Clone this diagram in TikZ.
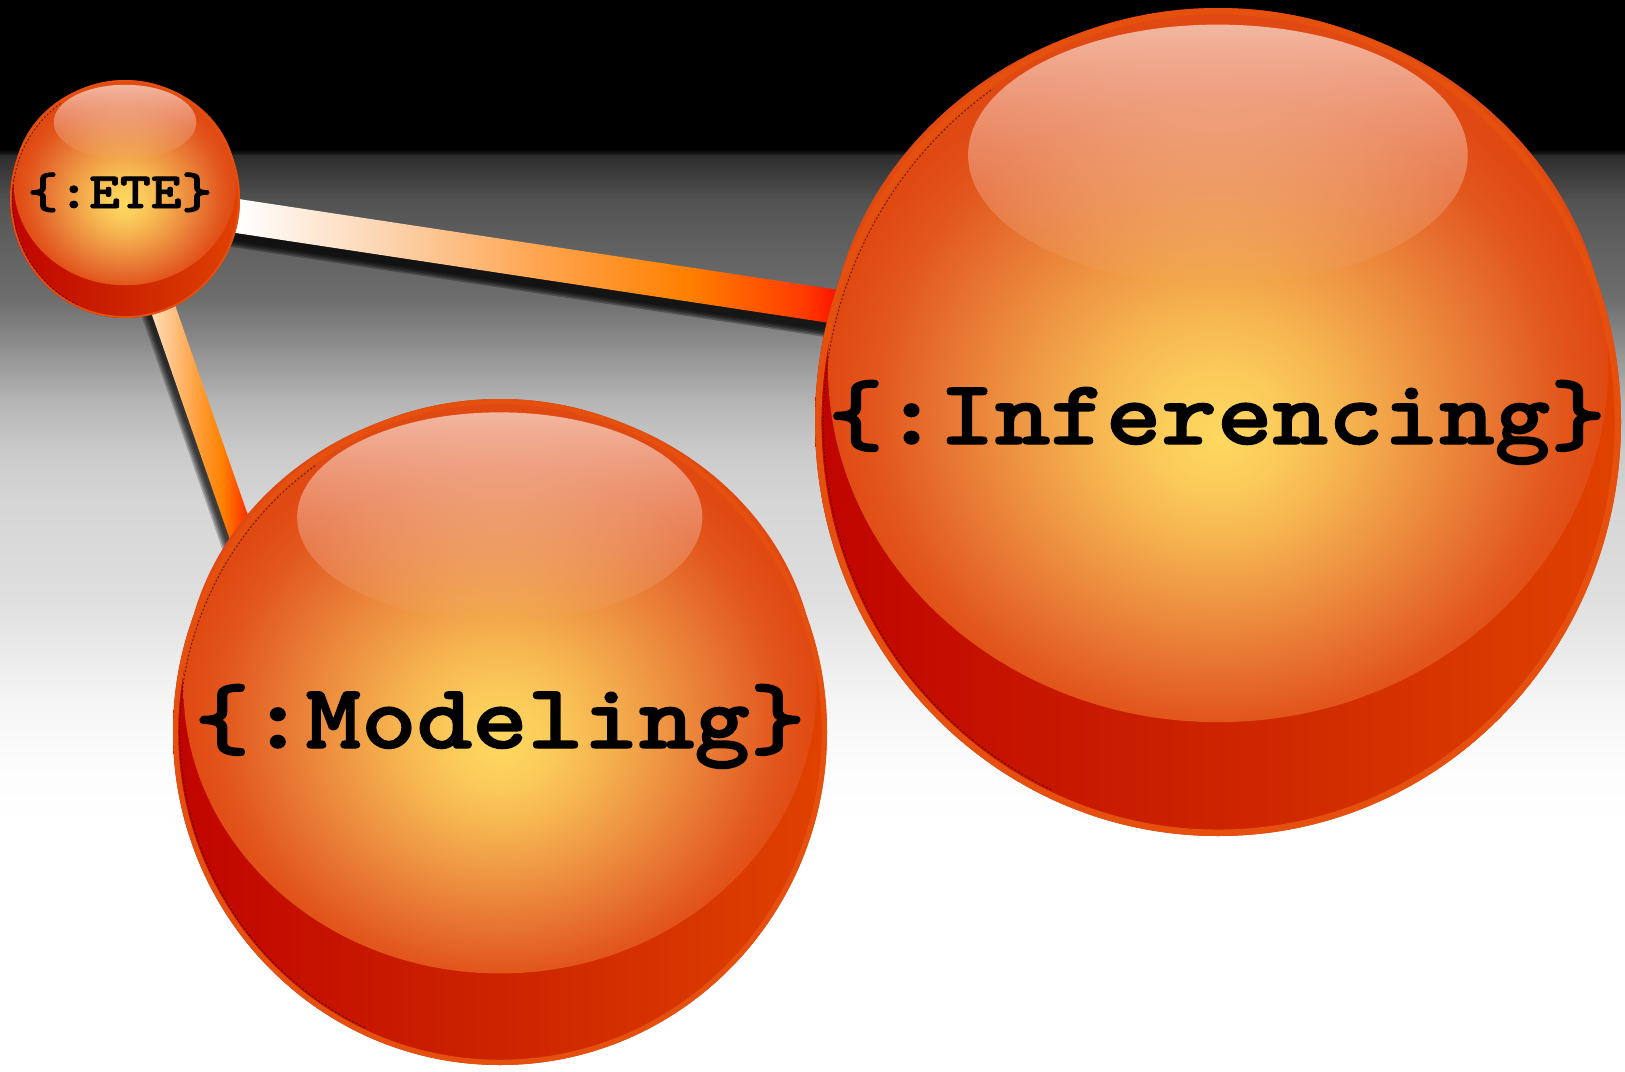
\documentclass[tikz,border=0pt]{standalone}
\usepackage{fontspec}
\newfontfamily\labelfont{lmmonolt10-bold.otf}[FakeStretch=1.15, FakeBold=1.6]
\usetikzlibrary{calc,fadings}

% sphere colours
\definecolor{baseL}{HTML}{C00400}
\definecolor{baseM}{HTML}{CC2400}
\definecolor{baseR}{HTML}{E04200}
\definecolor{rimorange}{HTML}{E5500F}
\definecolor{rimdark}{HTML}{2A0A00}
\definecolor{litA}{HTML}{FED860}
\definecolor{litB}{HTML}{FBCB5A}
\definecolor{litC}{HTML}{F6B550}
\definecolor{litD}{HTML}{EE9442}
\definecolor{litE}{HTML}{E77230}
\definecolor{litF}{HTML}{E2561C}
\definecolor{litG}{HTML}{E04A12}
% rod colours
\definecolor{rodA}{HTML}{FFFFFF}
\definecolor{rodB}{HTML}{FCD3AE}
\definecolor{rodC}{HTML}{FFA550}
\definecolor{rodD}{HTML}{FF8000}
\definecolor{rodE}{HTML}{FF3C00}
\definecolor{rodF}{HTML}{FF0000}
\definecolor{rodP}{HTML}{FFE2C0}
\definecolor{rodQ}{HTML}{FFC080}
\definecolor{rodR}{HTML}{FF9A30}

\pgfdeclarehorizontalshading{ballbase}{100bp}{color(0bp)=(baseL); color(25bp)=(baseL); color(50bp)=(baseM); color(75bp)=(baseR); color(100bp)=(baseR)}
\pgfdeclareradialshading{balllit}{\pgfpoint{0bp}{-5bp}}{color(0bp)=(litA); color(4bp)=(litB); color(8bp)=(litC); color(13bp)=(litD); color(18bp)=(litE); color(22bp)=(litF); color(25bp)=(litG); color(50bp)=(litG)}
\pgfdeclarehorizontalshading{longrod}{100bp}{color(0bp)=(rodA); color(32bp)=(rodA); color(41bp)=(rodB); color(50bp)=(rodC); color(59bp)=(rodD); color(66bp)=(rodE); color(69bp)=(rodF); color(100bp)=(rodF)}
\pgfdeclarehorizontalshading{shortrod}{100bp}{color(0bp)=(rodP); color(35bp)=(rodP); color(42bp)=(rodQ); color(50bp)=(rodR); color(56bp)=(rodD); color(62bp)=(rodE); color(65bp)=(rodF); color(100bp)=(rodF)}
\tikzfading[name=glossfade, top color=transparent!0, middle color=transparent!35, bottom color=transparent!100]

% one horizontal band of the backdrop: top y, bottom y, top grey, bottom grey
\newcommand\bgband[4]{%
  \shade[top color={rgb,255:red,#3;green,#3;blue,#3},
         bottom color={rgb,255:red,#4;green,#4;blue,#4}]
    (0,#1-0.6) rectangle (1625,#2+0.6);}

% glossy sphere: centre x, centre y, x radius, y radius
\newcommand\glossball[4]{%
  \pgfmathsetmacro\gbInY{#2-0.135*#4}%
  \pgfmathsetmacro\gbInRx{0.968*#3}%
  \pgfmathsetmacro\gbInRy{0.86*#4}%
  \pgfmathsetmacro\gbHiY{#2-0.645*#4}%
  \pgfmathsetmacro\gbHiRx{0.62*#3}%
  \pgfmathsetmacro\gbHiRy{0.315*#4}%
  \pgfmathsetmacro\gbRim{0.016*#3}%
  \pgfmathsetmacro\gbRx{#3-\gbRim/2}%
  \pgfmathsetmacro\gbRy{#4-\gbRim/2}%
  \pgfmathsetmacro\gbDx{#3-1.3*\gbRim}%
  \pgfmathsetmacro\gbDy{#4-1.3*\gbRim}%
  \pgfmathsetmacro\gbSx{#1+\gbDx*cos(115)}%
  \pgfmathsetmacro\gbSy{#2+\gbDy*sin(115)}%
  \shade[shading=ballbase] (#1,#2) ellipse[x radius=#3, y radius=#4];
  \shade[shading=balllit] (#1,\gbInY) ellipse[x radius=\gbInRx, y radius=\gbInRy];
  \fill[white, fill opacity=0.6, path fading=glossfade]
    (#1,\gbHiY) ellipse[x radius=\gbHiRx, y radius=\gbHiRy];
  \draw[rimorange, line width=\gbRim pt] (#1,#2) ellipse[x radius=\gbRx, y radius=\gbRy];
  \draw[rimdark, opacity=0.7, line width=0.9pt, dash pattern=on 2pt off 2pt]
    (\gbSx,\gbSy) arc[start angle=115, end angle=235, x radius=\gbDx, y radius=\gbDy];
}

\begin{document}
\begin{tikzpicture}[x=1pt, y=-1pt,
  smalllabel/.style={font=\labelfont\fontsize{51}{51}\selectfont, inner sep=0pt, anchor=base, text=black},
  biglabel/.style={font=\labelfont\fontsize{92}{92}\selectfont, inner sep=0pt, anchor=base, text=black}]
\useasboundingbox (0,0) rectangle (1625,1071);

% backdrop: black band on top, grey fading to white below
\fill[white] (0,0) rectangle (1625,1071);
\fill[black] (0,0) rectangle (1625,150.5);
\bgband{150}{156}{0}{45}
\bgband{156}{200}{45}{82}
\bgband{200}{240}{82}{95}
\bgband{240}{300}{95}{110}
\bgband{300}{350}{110}{145}
\bgband{350}{400}{145}{180}
\bgband{400}{450}{180}{202}
\bgband{450}{500}{202}{213}
\bgband{500}{600}{213}{223}
\bgband{600}{650}{223}{234}
\bgband{650}{700}{234}{245}
\bgband{700}{760}{245}{252}
\bgband{760}{830}{252}{255}

% sphere centres and rod ends
\coordinate (ete) at (125,199);
\coordinate (mod) at (500,732);
\coordinate (inf) at (1218,422);
\coordinate (inf-port) at (950,324);
\coordinate (mod-port) at (278,640);

% soft shadows of the rods
\foreach \w in {0,3,6,9,12}{
  \draw[black, opacity=0.28, line width={(32+\w)*1pt}]
    ([shift={(-4,9)}]ete) -- ([shift={(-4,9)}]inf-port);
  \draw[black, opacity=0.22, line width={(21+\w)*1pt}]
    ([shift={(-5,5)}]ete) -- ([shift={(-5,5)}]mod-port);
}

% rods
\shade[shading=longrod]
  ($(ete)!17pt!90:(inf-port)$) -- ($(inf-port)!17pt!-90:(ete)$) --
  ($(inf-port)!17pt!90:(ete)$) -- ($(ete)!17pt!-90:(inf-port)$) -- cycle;
\shade[shading=shortrod]
  ($(ete)!12.5pt!90:(mod-port)$) -- ($(mod-port)!12.5pt!-90:(ete)$) --
  ($(mod-port)!12.5pt!90:(ete)$) -- ($(ete)!12.5pt!-90:(mod-port)$) -- cycle;

% spheres
\glossball{125}{199}{115}{119}
\glossball{500}{732}{327}{333}
\glossball{1218}{422}{403}{414}

% labels
\node[smalllabel] (ete-text) at (120,208) {\{:ETE\}};
\node[biglabel] (mod-text) at (500,748) {\{:Modeling\}};
\node[biglabel] (inf-text) at (1217,444) {\{:Inferencing\}};
\end{tikzpicture}
\end{document}
